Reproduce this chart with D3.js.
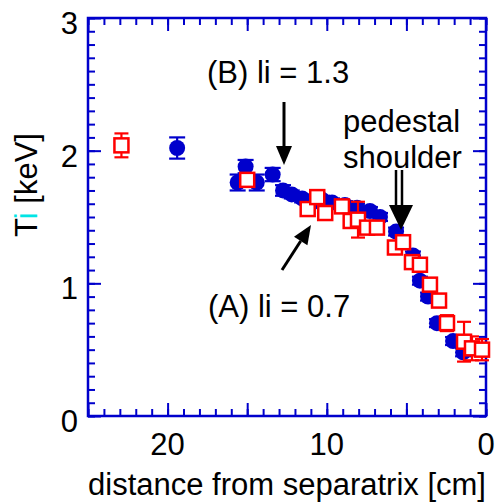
<!DOCTYPE html>
<html>
<head>
<meta charset="utf-8">
<script src="https://cdn.jsdelivr.net/npm/d3@7/dist/d3.min.js"></script>
<style>
  html, body { margin: 0; padding: 0; background: #fff; }
  svg { display: block; font-family: "Liberation Sans", Arial, sans-serif; }
</style>
</head>
<body>
<svg id="chart" width="498" height="502"></svg>
<script>
// Ion temperature profiles vs. distance from the separatrix
// (B) li = 1.3 : filled blue circles
const blueDist = [19.4, 15.1, 15.6, 14.4, 13.4, 12.75, 12.2, 11.55, 10.9, 10.3, 9.67, 8.86, 8.1, 7.29, 6.66, 5.65, 4.59, 4.15, 3.64, 3.08, 2.07, 1.44];
const blueTi   = [2.02, 1.88, 1.76, 1.76, 1.82, 1.70, 1.67, 1.64, 1.61, 1.63, 1.61, 1.59, 1.57, 1.545, 1.50, 1.39, 1.21, 1.02, 0.90, 0.70, 0.565, 0.48];
const blueErr  = [0.08, 0.05, 0.06, 0.06, 0.05, 0.04, 0.03, 0.03, 0.03, 0.03, 0.03, 0.03, 0.03, 0.03, 0.03, 0.03, 0.03, 0.03, 0.03, 0.03, 0.03, 0.03];

// (A) li = 0.7 : open red squares
const redDist = [22.9, 15.0, 11.2, 10.6, 10.1, 9.05, 8.5, 8.04, 7.47, 6.85, 5.72, 5.21, 4.65, 4.15, 3.52, 2.95, 2.45, 1.38, 0.88, 0.25];
const redTi   = [2.04, 1.78, 1.56, 1.65, 1.53, 1.58, 1.47, 1.48, 1.42, 1.42, 1.27, 1.31, 1.16, 1.14, 0.99, 0.87, 0.70, 0.56, 0.51, 0.50];
const redErr  = [0.09, 0.03, 0.03, 0.03, 0.03, 0.03, 0.03, 0.135, 0.03, 0.03, 0.03, 0.03, 0.03, 0.03, 0.03, 0.03, 0.06, 0.15, 0.09, 0.08];

// Axis ticks and labels
const xMajorTicks = [0, 5, 10, 15, 20, 25];
const xLabelTicks = [0, 10, 20];
const yMajorTicks = [0, 1, 2, 3];
const xTitle = "distance from separatrix [cm]";

const axisColor = "#0000cc";
const blueColor = "#0000cc";
const redColor = "#ff0000";

const svg = d3.select("#chart");
const pLeft = 88, pRight = 486, pTop = 18, pBottom = 416;

const x = d3.scaleLinear().domain([25, 0]).range([pLeft, pRight]);
const y = d3.scaleLinear().domain([0, 3]).range([pBottom, pTop]);

const xMinor = d3.range(0, 26, 1);
const yMinor = d3.range(0, 31, 1).map(d => d / 10);

// Frame ticks (all pointing inward) on four sides
function drawAxis(gen, tr, vals, size) {
  const g = svg.append("g").attr("transform", tr)
    .call(gen.tickValues(vals).tickSize(size).tickFormat(""));
  g.select(".domain").remove();
  g.selectAll(".tick line").attr("stroke", axisColor).attr("stroke-width", 2);
  return g;
}
const majorLen = 13, minorLen = 7;
drawAxis(d3.axisBottom(x), `translate(0,${pBottom})`, xMinor, -minorLen);
drawAxis(d3.axisBottom(x), `translate(0,${pBottom})`, xMajorTicks, -majorLen);
drawAxis(d3.axisTop(x), `translate(0,${pTop})`, xMinor, -minorLen);
drawAxis(d3.axisTop(x), `translate(0,${pTop})`, xMajorTicks, -majorLen);
drawAxis(d3.axisLeft(y), `translate(${pLeft},0)`, yMinor, -minorLen);
drawAxis(d3.axisLeft(y), `translate(${pLeft},0)`, yMajorTicks, -majorLen);
drawAxis(d3.axisRight(y), `translate(${pRight},0)`, yMinor, -minorLen);
drawAxis(d3.axisRight(y), `translate(${pRight},0)`, yMajorTicks, -majorLen);

svg.append("rect")
  .attr("x", pLeft).attr("y", pTop)
  .attr("width", pRight - pLeft).attr("height", pBottom - pTop)
  .attr("fill", "none").attr("stroke", axisColor).attr("stroke-width", 2.5);

// Tick labels
svg.append("g").selectAll("text").data(xLabelTicks).join("text")
  .attr("x", d => x(d)).attr("y", pBottom + 39)
  .attr("text-anchor", "middle").attr("font-size", 31).attr("fill", "#000")
  .text(d => d);
svg.append("g").selectAll("text").data(yMajorTicks).join("text")
  .attr("x", pLeft - 10).attr("y", d => y(d) + 16)
  .attr("text-anchor", "end").attr("font-size", 31).attr("fill", "#000")
  .text(d => d);

// Axis titles
svg.append("text")
  .attr("x", (pLeft + pRight) / 2).attr("y", 495)
  .attr("text-anchor", "middle").attr("font-size", 31).attr("fill", "#000")
  .text(xTitle);
const yt = svg.append("text")
  .attr("transform", "translate(37,185) rotate(-90)")
  .attr("text-anchor", "middle").attr("font-size", 31).attr("fill", "#000");
yt.append("tspan").text("T");
yt.append("tspan").attr("fill", "#00e5e5").text("i");
yt.append("tspan").text(" [keV]");

// Error bars
function errorBars(dist, ti, err, color, cap) {
  const g = svg.append("g").attr("stroke", color).attr("stroke-width", 2.2);
  const data = dist.map((d, i) => ({ d, t: ti[i], e: err[i] }));
  g.selectAll(".v").data(data).join("line")
    .attr("x1", p => x(p.d)).attr("x2", p => x(p.d))
    .attr("y1", p => y(p.t - p.e)).attr("y2", p => y(p.t + p.e));
  g.selectAll(".c1").data(data).join("line")
    .attr("x1", p => x(p.d) - cap).attr("x2", p => x(p.d) + cap)
    .attr("y1", p => y(p.t + p.e)).attr("y2", p => y(p.t + p.e));
  g.selectAll(".c2").data(data).join("line")
    .attr("x1", p => x(p.d) - cap).attr("x2", p => x(p.d) + cap)
    .attr("y1", p => y(p.t - p.e)).attr("y2", p => y(p.t - p.e));
}

errorBars(blueDist, blueTi, blueErr, blueColor, 8);
svg.append("g").selectAll("circle").data(blueDist).join("circle")
  .attr("cx", d => x(d)).attr("cy", (d, i) => y(blueTi[i]))
  .attr("r", 8).attr("fill", blueColor);

errorBars(redDist, redTi, redErr, redColor, 7);
const sq = 14;
svg.append("g").selectAll("rect").data(redDist).join("rect")
  .attr("x", d => x(d) - sq / 2).attr("y", (d, i) => y(redTi[i]) - sq / 2)
  .attr("width", sq).attr("height", sq)
  .attr("fill", "#fff").attr("stroke", redColor).attr("stroke-width", 2.5);

// Annotations
const ann = svg.append("g").attr("font-size", 31).attr("fill", "#000");
ann.append("text").attr("x", 207).attr("y", 83).text("(B) li = 1.3");
ann.append("text").attr("x", 343).attr("y", 132).text("pedestal");
ann.append("text").attr("x", 343).attr("y", 168).text("shoulder");
ann.append("text").attr("x", 208).attr("y", 317).text("(A) li = 0.7");

function arrow(x1, y1, x2, y2, headLen, headW) {
  const ang = Math.atan2(y2 - y1, x2 - x1);
  const bx = x2 - headLen * Math.cos(ang), by = y2 - headLen * Math.sin(ang);
  const px = -Math.sin(ang) * headW / 2, py = Math.cos(ang) * headW / 2;
  svg.append("line").attr("x1", x1).attr("y1", y1).attr("x2", bx).attr("y2", by)
    .attr("stroke", "#000").attr("stroke-width", 3);
  svg.append("path")
    .attr("d", `M${x2},${y2}L${bx + px},${by + py}L${bx - px},${by - py}Z`)
    .attr("fill", "#000");
}
arrow(284, 102, 284, 165, 19, 16);
arrow(282, 270, 311, 225, 19, 16);

// Double-shaft arrow for the pedestal shoulder
svg.append("line").attr("x1", 396).attr("y1", 170).attr("x2", 396).attr("y2", 210)
  .attr("stroke", "#000").attr("stroke-width", 2.5);
svg.append("line").attr("x1", 402).attr("y1", 170).attr("x2", 402).attr("y2", 210)
  .attr("stroke", "#000").attr("stroke-width", 2.5);
svg.append("path").attr("d", "M389,205L413,205L401,230Z").attr("fill", "#000");
</script>
</body>
</html>
